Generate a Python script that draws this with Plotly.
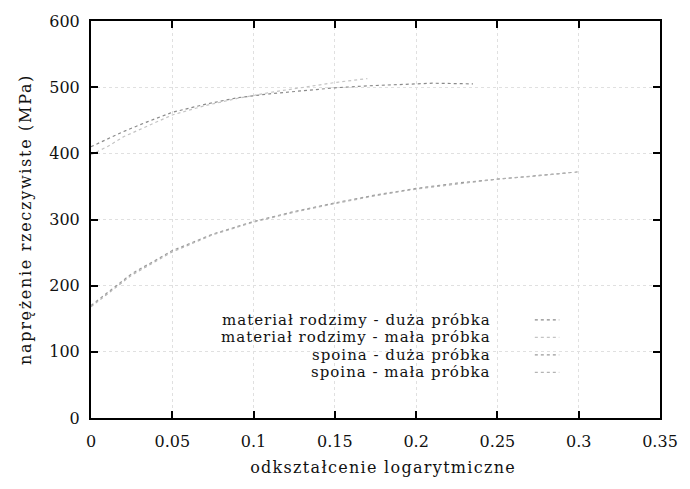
import plotly.graph_objects as go

# --- data ---
x_base_big = [0, 0.01, 0.02, 0.035, 0.05, 0.07, 0.09, 0.11, 0.13, 0.15, 0.17, 0.19, 0.21, 0.235]
y_base_big = [410, 422, 433, 448, 462, 474, 484, 490, 495, 499, 502, 504, 506, 505]

x_base_small = [0, 0.01, 0.02, 0.035, 0.05, 0.07, 0.09, 0.11, 0.13, 0.15, 0.17]
y_base_small = [398, 410, 425, 442, 458, 472, 483, 492, 500, 507, 513]

x_weld_big = [0, 0.025, 0.05, 0.075, 0.1, 0.125, 0.15, 0.175, 0.2, 0.225, 0.25, 0.275, 0.3]
y_weld_big = [170, 218, 253, 278, 297, 312, 325, 337, 347, 355, 361, 367, 372]

x_weld_small = [0, 0.025, 0.05, 0.075, 0.1, 0.125, 0.15, 0.175, 0.2, 0.225, 0.25, 0.275, 0.295]
y_weld_small = [168, 216, 251, 277, 296, 311, 324, 336, 346, 354, 361, 366, 371]

legend_labels = ["materiał rodzimy - duża próbka",
                 "materiał rodzimy - mała próbka",
                 "spoina - duża próbka",
                 "spoina - mała próbka"]
line_colors = ["#8a8a8a", "#c4c4c4", "#9a9a9a", "#b4b4b4"]
line_dashes = ["dot", "dot", "dot", "dot"]

x_ticks = [0, 0.05, 0.1, 0.15, 0.2, 0.25, 0.3, 0.35]
x_tick_text = ["0", "0.05", "0.1", "0.15", "0.2", "0.25", "0.3", "0.35"]
y_ticks = [0, 100, 200, 300, 400, 500, 600]

FONT = "DejaVu Serif, Liberation Serif, serif"
FS = 16


def wide(s, ls=1.2):
    return f'<span style="letter-spacing:{ls}px">{s}</span>'


fig = go.Figure()
series = [(x_base_big, y_base_big), (x_base_small, y_base_small),
          (x_weld_big, y_weld_big), (x_weld_small, y_weld_small)]
for (xs, ys), name, c, d in zip(series, legend_labels, line_colors, line_dashes):
    fig.add_trace(go.Scatter(x=xs, y=ys, mode="lines", name=name,
                             line=dict(color=c, width=1.2, dash=d),
                             showlegend=False))

# manual gnuplot-style legend: right-aligned text, sample line to the right
leg_y = [0.247, 0.203, 0.159, 0.115]
for lab, ly, c, d in zip(legend_labels, leg_y, line_colors, line_dashes):
    fig.add_annotation(xref="paper", yref="paper", x=0.704, y=ly, text=wide(lab, 1.0),
                       showarrow=False, xanchor="right", yanchor="middle",
                       borderpad=0,
                       font=dict(family=FONT, size=15, color="#111"))
    fig.add_shape(type="line", xref="paper", yref="paper",
                  x0=0.78, x1=0.823, y0=ly, y1=ly,
                  line=dict(color=c, width=1.2, dash=d))

axis_common = dict(showline=True, linecolor="black", linewidth=2, mirror="ticks",
                   ticks="inside", ticklen=7, tickcolor="black", tickwidth=1.5,
                   showgrid=True, gridcolor="#e0e0e0", griddash="dot", gridwidth=1,
                   zeroline=False,
                   tickfont=dict(family=FONT, size=FS, color="#111"))

fig.update_xaxes(range=[0, 0.35], tickvals=x_ticks, ticktext=x_tick_text,
                 ticklabelstandoff=8,
                 title=dict(text="&nbsp;&nbsp;&nbsp;" + wide("odkształcenie logarytmiczne", 1.3),
                            standoff=12,
                            font=dict(family=FONT, size=FS, color="#111")),
                 **axis_common)
fig.update_yaxes(range=[0, 600], tickvals=y_ticks, ticklabelstandoff=6,
                 title=dict(text=wide("naprężenie rzeczywiste (MPa)", 1.7), standoff=14,
                            font=dict(family=FONT, size=FS, color="#111")),
                 **axis_common)

fig.update_layout(width=690, height=489,
                  margin=dict(l=91, r=22, t=15, b=71),
                  paper_bgcolor="white", plot_bgcolor="white",
                  showlegend=False)

fig.write_html("out.html")
